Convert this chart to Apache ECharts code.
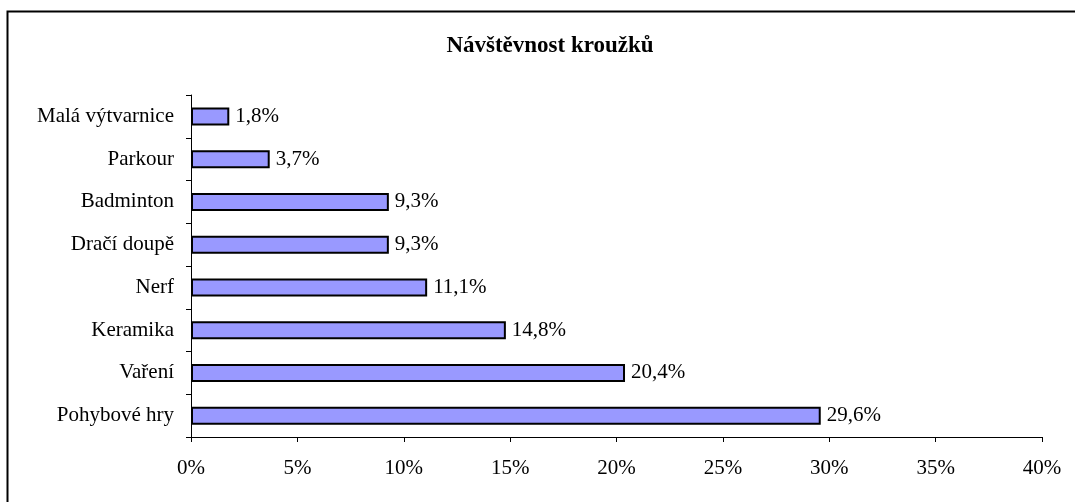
<!DOCTYPE html>
<html>
<head>
<meta charset="utf-8">
<script src="https://cdn.jsdelivr.net/npm/echarts@6/dist/echarts.min.js"></script>
<style>
html, body { margin: 0; padding: 0; background: #fff; }
#chart { width: 1075px; height: 502px; }
</style>
</head>
<body>
<div id="chart"></div>
<script>
// data (bottom to top)
var kategorie = ['Pohybové hry', 'Vaření', 'Keramika', 'Nerf', 'Dračí doupě', 'Badminton', 'Parkour', 'Malá výtvarnice'];
var hodnoty = [29.6, 20.4, 14.8, 11.1, 9.3, 9.3, 3.7, 1.8];
var osaX = [0, 5, 10, 15, 20, 25, 30, 35, 40];

var font = '"Liberation Serif", "DejaVu Serif", serif';

var chart = {
  animation: false,
  backgroundColor: '#fff',
  title: {
    text: 'Návštěvnost kroužků',
    left: 545,
    textAlign: 'center',
    top: 30,
    textStyle: { fontFamily: font, fontSize: 23, fontWeight: 'bold', color: '#000' }
  },
  graphic: [{
    type: 'rect',
    shape: { x: 7.5, y: 11.5, width: 1100, height: 600 },
    style: { fill: 'none', stroke: '#000', lineWidth: 2 },
    silent: true
  }],
  grid: {
    left: 191,
    right: 33,
    top: 95,
    bottom: 65,
    containLabel: false
  },
  xAxis: {
    type: 'value',
    min: 0,
    max: 40,
    interval: 5,
    axisLine: { show: true, lineStyle: { color: '#000', width: 1 } },
    axisTick: { show: true, length: 5, inside: false, lineStyle: { color: '#000' } },
    splitLine: { show: false },
    axisLabel: {
      margin: 21,
      fontFamily: font, fontSize: 21, color: '#000',
      formatter: function (v) { return osaX.indexOf(v) >= 0 ? v + '%' : ''; }
    }
  },
  yAxis: {
    type: 'category',
    data: kategorie,
    axisLine: { show: true, lineStyle: { color: '#000', width: 1 } },
    axisTick: { show: true, length: 5, alignWithLabel: false, lineStyle: { color: '#000' } },
    axisLabel: { margin: 17, fontFamily: font, fontSize: 21, color: '#000' }
  },
  series: [{
    type: 'bar',
    data: hodnoty,
    barWidth: 18,
    itemStyle: { color: '#9999FF', borderColor: '#000', borderWidth: 2 },
    label: {
      show: true,
      position: 'right',
      distance: 6,
      fontFamily: font, fontSize: 21, color: '#000',
      formatter: function (p) { return p.value.toFixed(1).replace('.', ',') + '%'; }
    }
  }]
};
echarts.init(document.getElementById('chart')).setOption(chart);
</script>
</body>
</html>
